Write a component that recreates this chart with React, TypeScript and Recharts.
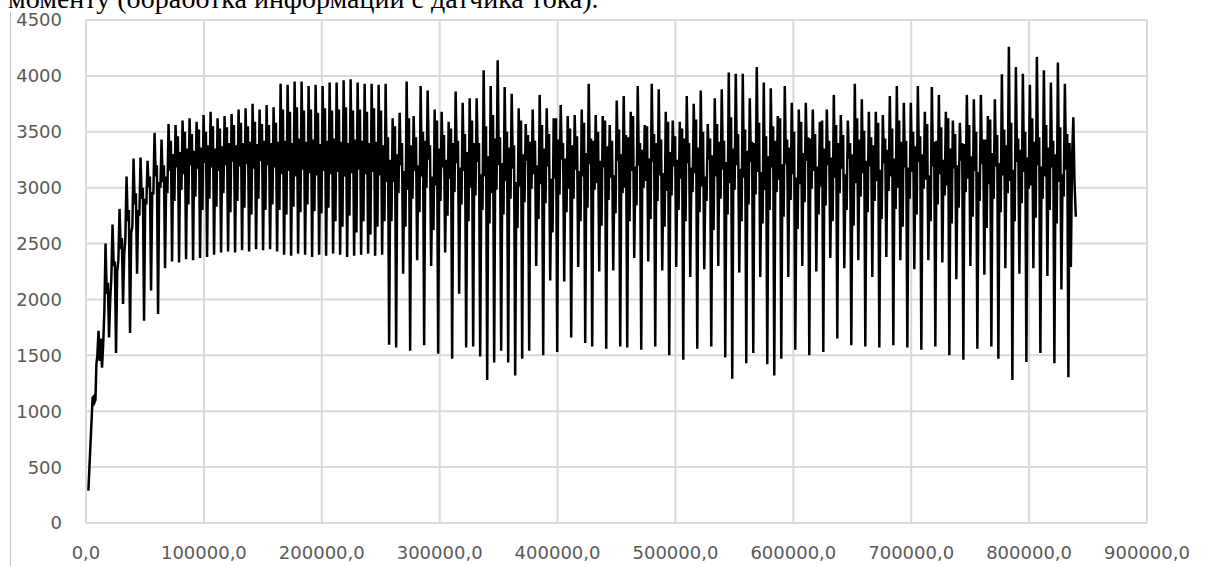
import { LineChart, Line, XAxis, YAxis, CartesianGrid } from 'recharts';

// sensor current readings: lead-in before the oscillation starts
const leadTime = [2000, 5600, 6400, 7200, 8000, 8800];
const leadCurrent = [290, 1120, 1130, 1080, 1100, 1420];

// each cycle is sampled 6 times: bandA, peak, bandB, bandC, trough, bandD
const CYCLE_START = 9640;
const CYCLE_LEN = 5940;

const peaks = [
  1720, 2500, 2670, 2810, 3100, 3260, 3270, 3240, 3490, 3430,
  3570, 3560, 3600, 3620, 3590, 3650, 3680, 3620, 3640, 3660,
  3700, 3710, 3750, 3700, 3740, 3720, 3930, 3920, 3950, 3950,
  3910, 3920, 3910, 3940, 3940, 3960, 3970, 3940, 3930, 3930,
  3920, 3930, 3620, 3670, 3950, 3640, 3910, 3870, 3700, 3680,
  3590, 3860, 3760, 3800, 3800, 4050, 3910, 4140, 3900, 3840,
  3710, 3570, 3700, 3830, 3710, 3620, 3740, 3640, 3650, 3700,
  3930, 3650, 3640, 3560, 3780, 3820, 3680, 3910, 3560, 3930,
  3880, 3680, 3600, 3590, 3820, 3750, 3870, 3570, 3800, 3880,
  4030, 4020, 4020, 3800, 4080, 3940, 3890, 3640, 3910, 3760,
  3700, 3760, 3700, 3590, 3700, 3830, 3650, 3600, 3930, 3790,
  3680, 3680, 3650, 3820, 3910, 3760, 3760, 3910, 3680, 3900,
  3830, 3680, 3600, 3580, 3830, 3790, 3830, 3640, 3790, 4015,
  4260, 4080, 4020, 3920, 4170, 4050, 3940, 4120, 3930,
];

const troughs = [
  1390, 1660, 1520, 1960, 1700, 2230, 1810, 2080, 1870, 2280,
  2340, 2330, 2360, 2350, 2370, 2380, 2400, 2420, 2430, 2420,
  2440, 2430, 2450, 2440, 2450, 2430, 2400, 2390, 2410, 2400,
  2380, 2400, 2390, 2410, 2400, 2380, 2390, 2400, 2410, 2390,
  2400, 1595, 1570, 2230, 1540, 2350, 1590, 2300, 1515, 2420,
  1470, 2050, 1570, 1580, 1490, 1280, 1435, 1540, 1435, 1320,
  1470, 1540, 2300, 1500, 2170, 1530, 2160, 1660, 2290, 1610,
  1580, 2250, 1560, 2260, 1580, 1570, 2370, 1550, 2340, 1580,
  2260, 1500, 2290, 1460, 2200, 1560, 2270, 1580, 2300, 1480,
  1290, 2240, 1430, 1520, 2200, 1420, 1320, 1470, 2200, 1550,
  2300, 1500, 2250, 1530, 2370, 1650, 2280, 1590, 2350, 1580,
  2200, 1570, 2380, 1590, 2350, 1570, 2270, 1550, 2350, 1580,
  2330, 1500, 2180, 1460, 2300, 1560, 2220, 1580, 1470, 2280,
  1280, 2230, 1440, 2280, 1520, 2210, 1430, 2090, 1305,
];

const bandA = [
  1500, 1900, 2200, 2350, 2550, 2650, 2750, 2850, 2950, 3000,
  2950, 2880, 2980, 2850, 2920, 2800, 2900, 2830, 2950, 2780,
  2880, 2820, 2760, 2900, 2800, 2850, 2800, 2760, 2830, 2780,
  2850, 2790, 2770, 2820, 2700, 2650, 2750, 2600, 2700, 2580,
  2650, 2700, 2700, 2950, 2650, 2900, 2780, 3000, 2620, 2880,
  2750, 2960, 2850, 2700, 2930, 2800, 2680, 2980, 2760, 2900,
  2640, 2870, 2990, 2720, 2860, 2600, 2940, 2780, 2900, 2700,
  2820, 2980, 2660, 2890, 2770, 2950, 2700, 2840, 3000, 2720,
  2880, 2650, 2930, 2800, 2700, 2960, 2780, 2880, 2620, 2900,
  2760, 2980, 2700, 2850, 2940, 2680, 2800, 2960, 2740, 2890,
  2630, 2870, 2990, 2760, 2840, 2700, 2950, 2800, 2660, 2920,
  2780, 2880, 2720, 2970, 2810, 2650, 2900, 2760, 2990, 2700,
  2850, 2930, 2680, 2820, 2960, 2740, 2880, 2640, 2900, 2780,
  2950, 2700, 2860, 2990, 2730, 2900, 2800, 2680, 2920,
];

const bandB = [
  1450, 2050, 2300, 2450, 2700, 2850, 2900, 3000, 3100, 3050,
  3150, 3180, 3120, 3200, 3170, 3220, 3180, 3150, 3200, 3230,
  3190, 3210, 3170, 3240, 3200, 3180, 3120, 3150, 3100, 3160,
  3130, 3110, 3150, 3120, 3140, 3100, 3130, 3160, 3120, 3140,
  3110, 3050, 3050, 3200, 2980, 3150, 3100, 3250, 3020, 3180,
  3080, 3220, 3150, 3000, 3230, 3100, 2950, 3200, 3060, 3170,
  3010, 3240, 3120, 3030, 3190, 3080, 3250, 2990, 3160, 3100,
  3210, 3040, 3180, 3090, 3240, 3000, 3150, 3200, 3060, 3230,
  3110, 2970, 3190, 3080, 3220, 3130, 3010, 3250, 3100, 3160,
  3040, 3200, 3090, 3230, 3140, 2980, 3180, 3070, 3210, 3120,
  3030, 3240, 3150, 3010, 3200, 3090, 3170, 3260, 3040, 3130,
  3190, 3060, 3220, 3100, 3000, 3180, 3140, 3230, 3070, 3190,
  3120, 3020, 3170, 3240, 3080, 3150, 3210, 3030, 3190, 3110,
  3060, 3230, 3140, 3020, 3200, 3100, 3180, 3050, 3160,
];

const bandC = [
  1650, 2150, 2340, 2550, 2800, 2950, 3000, 3100, 3200, 3200,
  3420, 3460, 3500, 3480, 3520, 3500, 3550, 3530, 3540, 3560,
  3580, 3550, 3590, 3570, 3560, 3580, 3700, 3680, 3720, 3690,
  3700, 3670, 3710, 3690, 3700, 3720, 3690, 3700, 3680, 3710,
  3690, 3450, 3550, 3400, 3620, 3450, 3500, 3380, 3600, 3470,
  3530, 3420, 3480, 3600, 3400, 3550, 3650, 3450, 3500, 3380,
  3600, 3470, 3420, 3560, 3480, 3620, 3400, 3530, 3460, 3580,
  3440, 3500, 3600, 3420, 3520, 3470, 3640, 3400, 3550, 3480,
  3430, 3590, 3460, 3530, 3400, 3610, 3500, 3440, 3570, 3420,
  3630, 3480, 3520, 3410, 3580, 3460, 3550, 3620, 3430, 3500,
  3590, 3450, 3480, 3600, 3420, 3560, 3470, 3400, 3620, 3510,
  3450, 3580, 3440, 3530, 3600, 3420, 3500, 3460, 3570, 3410,
  3540, 3620, 3480, 3400, 3560, 3500, 3430, 3610, 3470, 3520,
  3580, 3440, 3500, 3620, 3450, 3560, 3420, 3540, 3480,
];

const bandD = [
  1600, 2000, 2250, 2400, 2600, 2800, 2900, 2950, 3050, 3100,
  3300, 3320, 3350, 3330, 3360, 3380, 3350, 3370, 3400, 3380,
  3400, 3410, 3390, 3420, 3400, 3410, 3420, 3400, 3440, 3410,
  3430, 3390, 3420, 3440, 3410, 3400, 3430, 3420, 3400, 3410,
  3380, 3250, 3300, 3150, 3380, 3200, 3420, 3100, 3350, 3250,
  3400, 3180, 3320, 3400, 3120, 3280, 3440, 3220, 3360, 3050,
  3300, 3410, 3200, 3350, 3080, 3430, 3260, 3380, 3150, 3310,
  3420, 3240, 3370, 3110, 3300, 3450, 3190, 3340, 3260, 3400,
  3130, 3320, 3250, 3440, 3180, 3360, 3100, 3290, 3410, 3230,
  3350, 3170, 3330, 3400, 3140, 3280, 3420, 3210, 3360, 3090,
  3310, 3440, 3190, 3350, 3270, 3400, 3120, 3300, 3430, 3240,
  3380, 3160, 3340, 3260, 3410, 3180, 3370, 3300, 3110, 3420,
  3250, 3350, 3200, 3390, 3280, 3140, 3430, 3310, 3220, 3380,
  3160, 3340, 3270, 3410, 3190, 3360, 3300, 3120, 3400,
];

// last few samples after the final full cycle
const tailTime = [835400, 836400, 837500, 838500, 839600];
const tailCurrent = [2290, 3250, 3630, 3050, 2740];

const xTicks = [0, 100000, 200000, 300000, 400000, 500000, 600000, 700000, 800000, 900000];
const yTicks = [0, 500, 1000, 1500, 2000, 2500, 3000, 3500, 4000, 4500];

const buildData = () => {
  const rows: { t: number; v: number }[] = [];
  leadTime.forEach((t, i) => rows.push({ t, v: leadCurrent[i] }));
  peaks.forEach((p, k) => {
    const samples = [bandA[k], p, bandB[k], bandC[k], troughs[k], bandD[k]];
    samples.forEach((v, j) => {
      rows.push({ t: CYCLE_START + k * CYCLE_LEN + (j * CYCLE_LEN) / 6, v });
    });
  });
  tailTime.forEach((t, i) => rows.push({ t, v: tailCurrent[i] }));
  return rows;
};

const chartData = buildData();

const tickStyle = { fill: '#595959', fontSize: 18, fontFamily: 'DejaVu Sans' };

export default function App() {
  return (
    <div
      style={{
        position: 'absolute',
        left: 0,
        top: 0,
        width: 1232,
        height: 566,
        background: '#fff',
        overflow: 'hidden',
      }}
    >
      {/* page margin line of the document */}
      <div
        style={{
          position: 'absolute',
          left: 10,
          top: 12,
          bottom: 0,
          borderLeft: '1px solid #c0c0c0',
        }}
      />
      <div
        style={{
          position: 'absolute',
          left: 8,
          top: -17,
          fontFamily: '"Liberation Serif"',
          fontSize: 28,
          whiteSpace: 'nowrap',
          color: '#000',
        }}
      >
        моменту (обработка информации с датчика тока).
      </div>
      <div style={{ position: 'absolute', left: 0, top: 0 }}>
        <LineChart
          width={1232}
          height={566}
          data={chartData}
          margin={{ top: 20, right: 85, bottom: 0, left: 10 }}
        >
          <CartesianGrid stroke="#d9d9d9" strokeWidth={2} />
          <XAxis
            type="number"
            dataKey="t"
            domain={[0, 900000]}
            ticks={xTicks}
            interval={0}
            tickFormatter={(v) => `${v},0`}
            axisLine={false}
            tickLine={false}
            tickSize={0}
            tickMargin={23}
            height={43}
            tick={tickStyle}
          />
          <YAxis
            type="number"
            domain={[0, 4500]}
            ticks={yTicks}
            interval={0}
            width={76}
            axisLine={false}
            tickLine={false}
            tickSize={0}
            tickMargin={24}
            tick={tickStyle}
          />
          <Line
            type="linear"
            dataKey="v"
            stroke="#000"
            strokeWidth={2.5}
            dot={false}
            isAnimationActive={false}
          />
        </LineChart>
      </div>
    </div>
  );
}
